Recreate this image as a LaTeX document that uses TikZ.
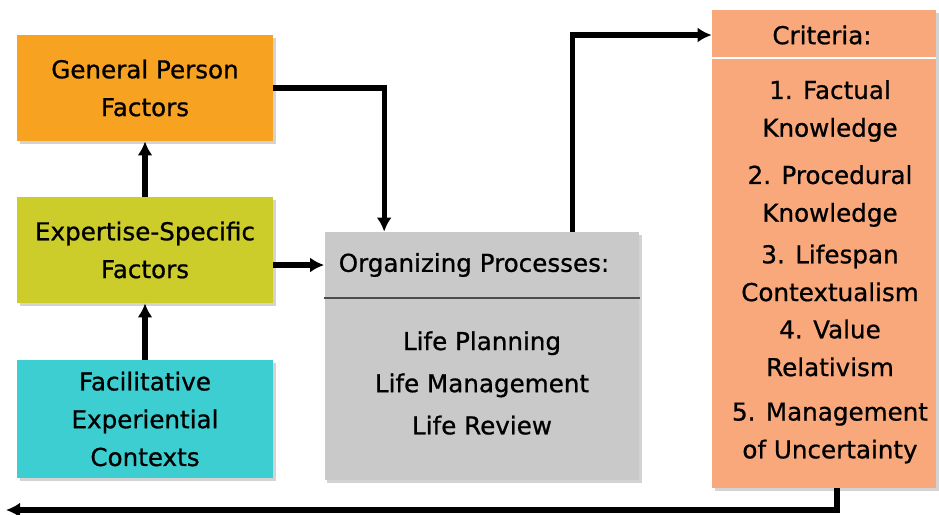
\documentclass[tikz,border=0pt]{standalone}
\usepackage{fontspec}
\setmainfont{DejaVu Sans}[BoldFont=DejaVu Sans, BoldFeatures={FakeBold=0.8}]
\usetikzlibrary{arrows.meta,shadows}

\definecolor{personorange}{RGB}{247,162,32}
\definecolor{expertolive}{RGB}{204,204,42}
\definecolor{contextcyan}{RGB}{60,206,208}
\definecolor{processgray}{RGB}{201,201,201}
\definecolor{criteriapeach}{RGB}{249,168,124}

\begin{document}
\begin{tikzpicture}[
        x=0.02cm, y=-0.02cm,
        every node/.style={font=\fontsize{14}{21.5}\selectfont\bfseries, align=center},
        box/.style={rectangle, inner sep=0pt, minimum width=5.12cm,
            drop shadow={shadow xshift=1.5pt, shadow yshift=-1.5pt, opacity=0.35}},
        link/.style={line width=2.9pt, -{Latex[length=8pt,width=8.5pt]}}
    ]

    \useasboundingbox (0,0) rectangle (939,514);

    % factor boxes on the left
    \node[box, fill=personorange, minimum height=2.12cm] (gpf) at (145,88) {General Person\\Factors};
    \node[box, fill=expertolive, minimum height=2.12cm] (esf) at (145,250) {Expertise-Specific\\Factors};
    \node[box, fill=contextcyan, minimum height=2.36cm] (fec) at (145,419) {Facilitative\\Experiential\\Contexts};

    % organizing processes
    \node[box, fill=processgray, minimum width=6.3cm, minimum height=4.96cm] (org) at (482,356) {};
    \node (orgtitle) at (474,265) {Organizing Processes:};
    \draw[black!70, line width=1pt] (org.west |- 0,298) -- (org.east |- 0,298);
    \node[font=\fontsize{14}{24}\selectfont\bfseries] (orgitems) at (482,383) {Life Planning\\Life Management\\Life Review};

    % criteria column
    \node[box, fill=criteriapeach, minimum width=4.48cm, minimum height=9.56cm] (crit) at (824,249) {};
    \node (crittitle) at (822,35) {Criteria:};
    \draw[white, line width=1pt] (crit.west |- 0,58) -- (crit.east |- 0,58);
    \foreach \num/\first/\second/\ypos in {1/Factual/Knowledge/111,
            2/Procedural/Knowledge/196, 3/Lifespan/Contextualism/273,
            4/Value/Relativism/348, 5/Management/of Uncertainty/433}
        \node (crit\num) at (830,\ypos) {\num. \first\\\second};

    % connectors
    \coordinate (back) at (6,510);
    \draw[link] (esf.north) -- (gpf.south);
    \draw[link] (fec.north) -- (esf.south);
    \draw[link] (gpf.east) -| ([xshift=1.2cm]org.north west);
    \draw[link] (esf.east |- orgtitle) -- (org.west |- orgtitle);
    \draw[link] ([xshift=-1.34cm]org.north east) |- (crit.west |- crittitle);
    \draw[link] ([xshift=0.26cm]crit.south) |- (back);

\end{tikzpicture}
\end{document}
